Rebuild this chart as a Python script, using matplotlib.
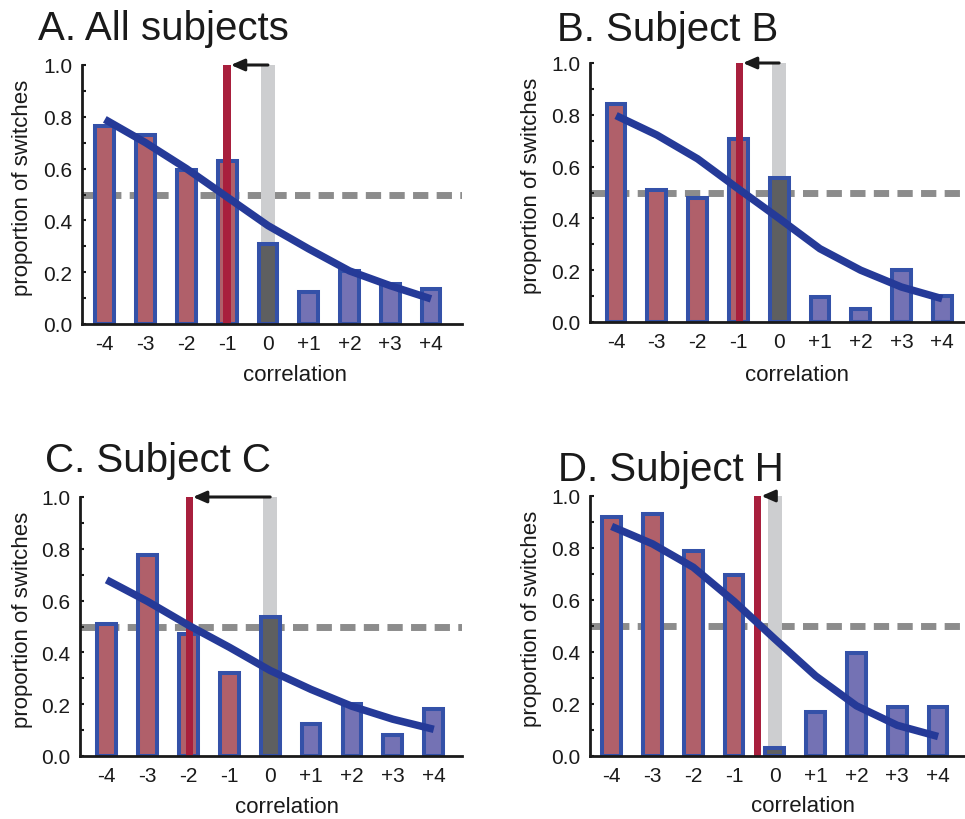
import matplotlib
matplotlib.use("Agg")
import matplotlib.pyplot as plt
from matplotlib.ticker import MultipleLocator, FormatStrFormatter

plt.rcParams['font.family'] = ['Liberation Sans', 'DejaVu Sans']

# ---------------- data ----------------
correlation = [-4, -3, -2, -1, 0, 1, 2, 3, 4]
tick_labels = ['-4', '-3', '-2', '-1', '0', '+1', '+2', '+3', '+4']

titles = ['A. All subjects', 'B. Subject B', 'C. Subject C', 'D. Subject H']

bars_A = [0.765, 0.73, 0.595, 0.63, 0.31, 0.125, 0.205, 0.155, 0.135]
bars_B = [0.84, 0.51, 0.48, 0.705, 0.555, 0.095, 0.05, 0.20, 0.10]
bars_C = [0.51, 0.775, 0.47, 0.32, 0.535, 0.125, 0.20, 0.08, 0.18]
bars_D = [0.92, 0.93, 0.79, 0.695, 0.032, 0.17, 0.395, 0.19, 0.19]

fit_A = [0.79, 0.70, 0.60, 0.49, 0.38, 0.29, 0.205, 0.148, 0.097]
fit_B = [0.797, 0.722, 0.63, 0.514, 0.40, 0.283, 0.20, 0.135, 0.09]
fit_C = [0.68, 0.597, 0.505, 0.42, 0.33, 0.257, 0.192, 0.142, 0.103]
fit_D = [0.883, 0.816, 0.726, 0.595, 0.45, 0.308, 0.193, 0.118, 0.075]

# shifted point of subjective equality (red line) for each panel
pse = [-1.0, -0.98, -1.98, -0.42]
chance_level = 0.5

# ---------------- style ----------------
W, H = 965, 820
fig = plt.figure(figsize=(W / 100, H / 100), dpi=100)

neg_col = '#B0606A'
zero_col = '#5E5F60'
pos_col = '#7472B4'
edge_col = '#3451A8'
red_col = '#A81F3D'
band_col = '#CDCED0'
fit_col = '#253A98'
dash_col = '#8C8C8C'

# pixel boxes: left, right, top(y=1), bottom(y=0)
boxes = [(82, 462, 66, 325), (590, 965, 64, 323), (80, 462, 498, 757), (590, 965, 497, 757)]
xlims = [(-4.56, 4.76), (-4.64, 4.56), (-4.65, 4.69), (-4.53, 4.66)]
title_pos = [(38, 40), (557, 41), (45, 472), (558, 481)]
ylabel_pos = [(23, 188), (531, 186), (23, 620), (531, 619)]
xlabel_pos = [(295, 381), (797, 381), (287, 813), (803, 812)]

all_bars = [bars_A, bars_B, bars_C, bars_D]
all_fits = [fit_A, fit_B, fit_C, fit_D]

for i in range(4):
    l, r, t, b = boxes[i]
    ax = fig.add_axes([l / W, (H - b) / H, (r - l) / W, (b - t) / H])
    ax.set_xlim(*xlims[i])
    ax.set_ylim(0, 1.0)

    # chance level
    ax.axhline(chance_level, color=dash_col, lw=5, linestyle=(0, (2.2, 1.2)), zorder=1)
    # grey band at zero
    ax.bar([0], [1.0], width=0.35, color=band_col, zorder=1.5)
    # bars
    cols = [neg_col if c < 0 else (zero_col if c == 0 else pos_col) for c in correlation]
    ax.bar(correlation, all_bars[i], width=0.46, color=cols, edgecolor=edge_col,
           linewidth=2.9, zorder=2)
    # red line (shifted PSE)
    ax.bar([pse[i]], [1.0], width=0.18, color=red_col, zorder=3)
    # fit curve
    ax.plot(correlation, all_fits[i], color=fit_col, lw=5.4, solid_capstyle='butt',
            solid_joinstyle='round', zorder=4)
    # arrow
    ax.annotate('', xy=(pse[i] + 0.09, 1.0), xytext=(0, 1.0),
                arrowprops=dict(arrowstyle='-|>,head_length=0.8,head_width=0.35',
                                color='#1a1a1a', lw=2.2, shrinkA=0, shrinkB=0),
                zorder=5, annotation_clip=False)

    for s in ['top', 'right']:
        ax.spines[s].set_visible(False)
    for s in ['left', 'bottom']:
        ax.spines[s].set_linewidth(2.0)
        ax.spines[s].set_color('#1a1a1a')
    ax.spines['bottom'].set_zorder(6)

    ax.set_xticks(correlation)
    ax.set_xticklabels(tick_labels)
    ax.tick_params(axis='x', length=0, pad=7, labelsize=15, colors='#1a1a1a')
    ax.yaxis.set_major_locator(MultipleLocator(0.2))
    ax.yaxis.set_minor_locator(MultipleLocator(0.1))
    ax.yaxis.set_major_formatter(FormatStrFormatter('%.1f'))
    ax.tick_params(axis='y', which='both', direction='in', length=3, width=1.5,
                   pad=7, labelsize=15, colors='#1a1a1a')
    ax.patch.set_alpha(0)

    tx, ty = title_pos[i]
    fig.text(tx / W, (H - ty) / H, titles[i], fontsize=29, ha='left', va='baseline',
             color='#1a1a1a')
    yx, yy = ylabel_pos[i]
    fig.text(yx / W, (H - yy) / H, 'proportion of switches', fontsize=16, rotation=90,
             ha='center', va='center', color='#1a1a1a')
    xx, xy = xlabel_pos[i]
    fig.text(xx / W, (H - xy) / H, 'correlation', fontsize=16, ha='center', va='baseline',
             color='#1a1a1a')

fig.savefig('out.png', dpi=100)
